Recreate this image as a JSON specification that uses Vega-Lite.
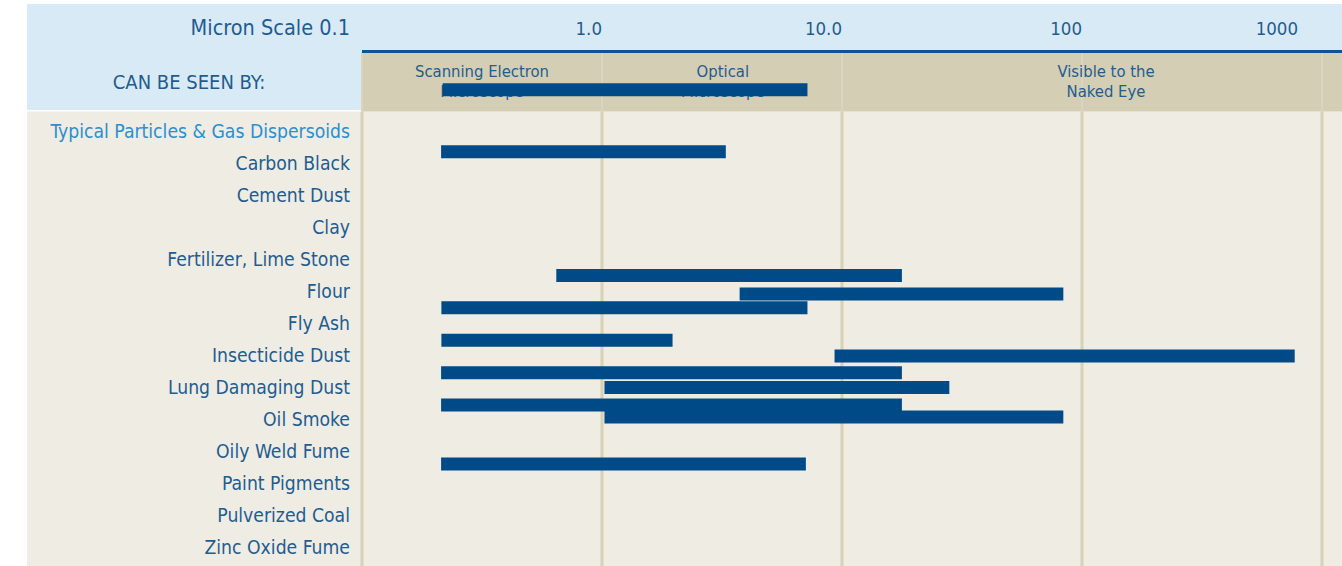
{
  "$schema": "https://vega.github.io/schema/vega-lite/v6.json",
  "width": 1342,
  "height": 566,
  "padding": 0,
  "autosize": {"type": "none"},
  "background": "white",
  "config": {"view": {"stroke": null}},
  "resolve": {"scale": {"y": "independent"}},
  "datasets": {
    "bars": [
      {"start": 0.2169, "end": 7.18, "row": -1.41},
      {"start": 0.2136, "end": 3.28, "row": 0.556},
      {"start": 0.645, "end": 17.77, "row": 4.494},
      {"start": 3.745, "end": 83.6, "row": 5.0875},
      {"start": 0.2142, "end": 7.18, "row": 5.525},
      {"start": 0.2142, "end": 1.968, "row": 6.556},
      {"start": 9.31, "end": 769.6, "row": 7.056},
      {"start": 0.2136, "end": 17.77, "row": 7.5875},
      {"start": 1.024, "end": 28.0, "row": 8.056},
      {"start": 0.2136, "end": 17.77, "row": 8.619},
      {"start": 1.024, "end": 83.6, "row": 8.994},
      {"start": 0.2136, "end": 7.07, "row": 10.494}
    ],
    "categories": [
      {"name": "Typical Particles & Gas Dispersoids"},
      {"name": "Carbon Black"},
      {"name": "Cement Dust"},
      {"name": "Clay"},
      {"name": "Fertilizer, Lime Stone"},
      {"name": "Flour"},
      {"name": "Fly Ash"},
      {"name": "Insecticide Dust"},
      {"name": "Lung Damaging Dust"},
      {"name": "Oil Smoke"},
      {"name": "Oily Weld Fume"},
      {"name": "Paint Pigments"},
      {"name": "Pulverized Coal"},
      {"name": "Zinc Oxide Fume"}
    ],
    "grid": [{"micron": 0.1}, {"micron": 1}, {"micron": 10}, {"micron": 100}, {"micron": 1000}],
    "ticks": [{"label": "1.0", "micron": 1}, {"label": "10.0", "micron": 10}, {"label": "100", "micron": 100}],
    "bands": [
      {"label": "Scanning Electron\nMicroscope", "micron": 0.3162},
      {"label": "Optical\nMicroscope", "micron": 3.187},
      {"label": "Visible to the\nNaked Eye", "micron": 125.9}
    ],
    "one": [{}]
  },
  "layer": [
    {
      "data": {"name": "one"},
      "mark": {"type": "rect", "color": "#D9EAF7"},
      "encoding": {
        "x": {"datum": 0.0040194, "type": "quantitative", "scale": {"type": "log", "domain": [0.0031024, 1211.53], "nice": false}, "axis": null},
        "x2": {"datum": 1211.53},
        "y": {"datum": -3.984375, "type": "quantitative", "scale": {"domain": [-4.109375, 13.578125], "nice": false, "zero": false, "reverse": true}, "axis": null},
        "y2": {"datum": -0.671875}
      }
    },
    {
      "data": {"name": "one"},
      "mark": {"type": "rect", "color": "#EFECE4"},
      "encoding": {
        "x": {"datum": 0.0040194, "type": "quantitative", "scale": {"type": "log", "domain": [0.0031024, 1211.53], "nice": false}, "axis": null},
        "x2": {"datum": 1211.53},
        "y": {"datum": -0.625, "type": "quantitative", "scale": {"domain": [-4.109375, 13.578125], "nice": false, "zero": false, "reverse": true}, "axis": null},
        "y2": {"datum": 13.578125}
      }
    },
    {
      "data": {"name": "one"},
      "mark": {"type": "rect", "color": "#D4CEB4"},
      "encoding": {
        "x": {"datum": 0.1, "type": "quantitative", "scale": {"type": "log", "domain": [0.0031024, 1211.53], "nice": false}, "axis": null},
        "x2": {"datum": 1211.53},
        "y": {"datum": -2.453125, "type": "quantitative", "scale": {"domain": [-4.109375, 13.578125], "nice": false, "zero": false, "reverse": true}, "axis": null},
        "y2": {"datum": -0.625}
      }
    },
    {
      "data": {"name": "grid"},
      "mark": {"type": "rule", "color": "#DAD5C0", "strokeWidth": 2},
      "encoding": {
        "x": {"field": "micron", "type": "quantitative", "scale": {"type": "log", "domain": [0.0031024, 1211.53], "nice": false}, "axis": null},
        "y": {"datum": -2.453125, "type": "quantitative", "scale": {"domain": [-4.109375, 13.578125], "nice": false, "zero": false, "reverse": true}, "axis": null},
        "y2": {"datum": -0.625}
      }
    },
    {
      "data": {"name": "grid"},
      "mark": {"type": "rule", "color": "#D7D1B8", "strokeWidth": 3},
      "encoding": {
        "x": {"field": "micron", "type": "quantitative", "scale": {"type": "log", "domain": [0.0031024, 1211.53], "nice": false}, "axis": null},
        "y": {"datum": -0.625, "type": "quantitative", "scale": {"domain": [-4.109375, 13.578125], "nice": false, "zero": false, "reverse": true}, "axis": null},
        "y2": {"datum": 13.578125}
      }
    },
    {
      "data": {"name": "one"},
      "mark": {"type": "rule", "color": "#0D5591", "strokeWidth": 3},
      "encoding": {
        "x": {"datum": 0.1, "type": "quantitative", "scale": {"type": "log", "domain": [0.0031024, 1211.53], "nice": false}, "axis": null},
        "x2": {"datum": 1211.53},
        "y": {"datum": -2.5, "type": "quantitative", "scale": {"domain": [-4.109375, 13.578125], "nice": false, "zero": false, "reverse": true}, "axis": null}
      }
    },
    {
      "data": {"name": "one"},
      "mark": {"type": "text", "text": "Micron Scale 0.1", "align": "right", "baseline": "middle", "font": "DejaVu Sans Condensed", "fontSize": 21.5, "color": "#1F5C8F"},
      "encoding": {
        "x": {"datum": 0.0891, "type": "quantitative", "scale": {"type": "log", "domain": [0.0031024, 1211.53], "nice": false}, "axis": null},
        "y": {"datum": -3.21, "type": "quantitative", "scale": {"domain": [-4.109375, 13.578125], "nice": false, "zero": false, "reverse": true}, "axis": null}
      }
    },
    {
      "data": {"name": "ticks"},
      "mark": {"type": "text", "align": "right", "baseline": "middle", "font": "DejaVu Sans Condensed", "fontSize": 18.5, "color": "#1F5C8F"},
      "encoding": {
        "text": {"field": "label"},
        "x": {"field": "micron", "type": "quantitative", "scale": {"type": "log", "domain": [0.0031024, 1211.53], "nice": false}, "axis": null},
        "y": {"datum": -3.2, "type": "quantitative", "scale": {"domain": [-4.109375, 13.578125], "nice": false, "zero": false, "reverse": true}, "axis": null}
      }
    },
    {
      "data": {"name": "one"},
      "mark": {"type": "text", "text": "1000", "align": "right", "baseline": "middle", "dx": -24, "font": "DejaVu Sans Condensed", "fontSize": 18.5, "color": "#1F5C8F"},
      "encoding": {
        "x": {"datum": 1000, "type": "quantitative", "scale": {"type": "log", "domain": [0.0031024, 1211.53], "nice": false}, "axis": null},
        "y": {"datum": -3.2, "type": "quantitative", "scale": {"domain": [-4.109375, 13.578125], "nice": false, "zero": false, "reverse": true}, "axis": null}
      }
    },
    {
      "data": {"name": "one"},
      "mark": {"type": "text", "text": "CAN BE SEEN BY:", "align": "center", "baseline": "middle", "font": "DejaVu Sans Condensed", "fontSize": 20, "color": "#1F5C8F"},
      "encoding": {
        "x": {"datum": 0.01902, "type": "quantitative", "scale": {"type": "log", "domain": [0.0031024, 1211.53], "nice": false}, "axis": null},
        "y": {"datum": -1.53, "type": "quantitative", "scale": {"domain": [-4.109375, 13.578125], "nice": false, "zero": false, "reverse": true}, "axis": null}
      }
    },
    {
      "data": {"name": "bands"},
      "mark": {"type": "text", "align": "center", "baseline": "middle", "lineBreak": "\n", "lineHeight": 20.5, "font": "DejaVu Sans Condensed", "fontSize": 16.5, "color": "#1F5C8F"},
      "encoding": {
        "text": {"field": "label"},
        "x": {"field": "micron", "type": "quantitative", "scale": {"type": "log", "domain": [0.0031024, 1211.53], "nice": false}, "axis": null},
        "y": {"datum": -1.86, "type": "quantitative", "scale": {"domain": [-4.109375, 13.578125], "nice": false, "zero": false, "reverse": true}, "axis": null}
      }
    },
    {
      "data": {"name": "categories"},
      "mark": {"type": "text", "align": "right", "baseline": "middle", "font": "DejaVu Sans Condensed", "fontSize": 19.2},
      "encoding": {
        "text": {"field": "name"},
        "x": {"datum": 0.0891, "type": "quantitative", "scale": {"type": "log", "domain": [0.0031024, 1211.53], "nice": false}, "axis": null},
        "y": {"field": "name", "type": "ordinal", "sort": null, "scale": {"type": "point", "range": [132.3, 548.3], "padding": 0}, "axis": null},
        "color": {"condition": {"test": "datum.name === 'Typical Particles & Gas Dispersoids'", "value": "#2B8FCF"}, "value": "#1F5C8F"}
      }
    },
    {
      "data": {"name": "bars"},
      "mark": {"type": "bar", "orient": "horizontal", "size": 13, "color": "#004B87"},
      "encoding": {
        "x": {"field": "start", "type": "quantitative", "scale": {"type": "log", "domain": [0.0031024, 1211.53], "nice": false}, "axis": null},
        "x2": {"field": "end"},
        "y": {"field": "row", "type": "quantitative", "scale": {"domain": [-4.109375, 13.578125], "nice": false, "zero": false, "reverse": true}, "axis": null}
      }
    }
  ]
}
